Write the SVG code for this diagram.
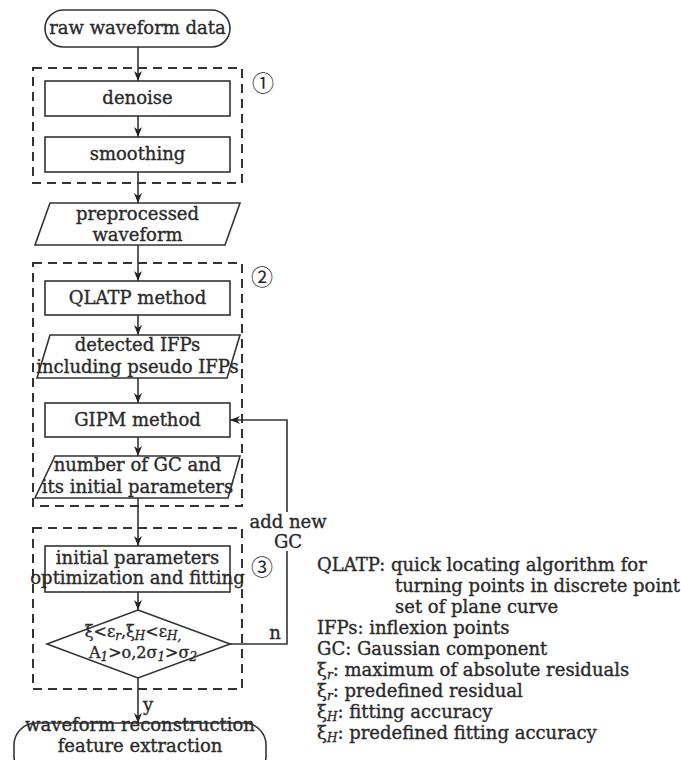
<svg xmlns="http://www.w3.org/2000/svg" width="681" height="760" viewBox="0 0 681 760">
<style>
  .bg{fill:#ffffff}
  .node{fill:#ffffff;stroke:#333;stroke-width:1.6}
  .grp{fill:none;stroke:#333;stroke-width:2;stroke-dasharray:9 6}
  .con{fill:none;stroke:#333;stroke-width:1.6}
  text{font-family:"DejaVu Serif","Noto Sans CJK SC",serif;font-size:18px;fill:#2a2a2a;stroke:#2a2a2a;stroke-width:0.35}
  .c{text-anchor:middle}
  .lg{font-size:18px}
  .num{font-family:"Noto Sans CJK SC","DejaVu Sans",sans-serif;font-size:22px;stroke-width:0}
  .sub{font-size:12px;font-style:italic}
  .dt{font-size:16px}
</style>
<defs>
  <marker id="ah" markerUnits="userSpaceOnUse" markerWidth="10" markerHeight="8" refX="10" refY="4" orient="auto">
    <path d="M0,0 L10,4 L0,8 L3,4 z" fill="#222"/>
  </marker>
</defs>
<rect class="bg" x="0" y="0" width="681" height="760"/>

<g id="groups">
  <rect id="group1" class="grp" x="33" y="68" width="209" height="115"/>
  <rect id="group2" class="grp" x="33" y="263" width="209" height="243"/>
  <rect id="group3" class="grp" x="33" y="528" width="209" height="161"/>
  <text class="num c" x="263" y="91">①</text>
  <text class="num c" x="262" y="285">②</text>
  <text class="num c" x="262" y="575">③</text>
</g>

<g id="connectors">
  <path class="con" d="M138,47 V81" marker-end="url(#ah)"/>
  <path class="con" d="M138,116 V137" marker-end="url(#ah)"/>
  <path class="con" d="M138,172 V203" marker-end="url(#ah)"/>
  <path class="con" d="M138,245 V281" marker-end="url(#ah)"/>
  <path class="con" d="M138,315 V335" marker-end="url(#ah)"/>
  <path class="con" d="M138,378 V403" marker-end="url(#ah)"/>
  <path class="con" d="M138,437 V456" marker-end="url(#ah)"/>
  <path class="con" d="M138,498 V546" marker-end="url(#ah)"/>
  <path class="con" d="M138,592 V610" marker-end="url(#ah)"/>
  <path class="con" d="M138,678 V723" marker-end="url(#ah)"/>
  <path class="con" d="M230,644 H287 V551"/>
  <path class="con" d="M287,512 V420 H230" marker-end="url(#ah)"/>
  <text class="c" x="288" y="528">add new</text>
  <text class="c" x="288" y="548">GC</text>
  <text class="c" x="275" y="639">n</text>
  <text class="c" x="148" y="711">y</text>
</g>

<g id="start">
  <rect class="node" x="45" y="10" width="185" height="37" rx="18.5"/>
  <text class="c" x="137.5" y="34">raw waveform data</text>
</g>

<g id="denoise">
  <rect class="node" x="45" y="81" width="185" height="35"/>
  <text class="c" x="137.5" y="104">denoise</text>
</g>

<g id="smoothing">
  <rect class="node" x="45" y="137" width="185" height="35"/>
  <text class="c" x="137.5" y="160">smoothing</text>
</g>

<g id="preprocessed">
  <polygon class="node" points="50,203 240,203 225,245 35,245"/>
  <text class="c" x="137.5" y="220">preprocessed</text>
  <text class="c" x="137.5" y="241">waveform</text>
</g>

<g id="qlatp">
  <rect class="node" x="45" y="281" width="185" height="34"/>
  <text class="c" x="137.5" y="304">QLATP method</text>
</g>

<g id="detected">
  <polygon class="node" points="50,335 240,335 227,378 37,378"/>
  <text class="c" x="137.5" y="351">detected IFPs</text>
  <text class="c" x="137.5" y="373">including pseudo IFPs</text>
</g>

<g id="gipm">
  <rect class="node" x="45" y="403" width="185" height="34"/>
  <text class="c" x="137.5" y="426">GIPM method</text>
</g>

<g id="numgc">
  <polygon class="node" points="55,456 240,456 228,498 35,498"/>
  <text class="c" x="137.5" y="471">number of GC and</text>
  <text class="c" x="137.5" y="493">its initial parameters</text>
</g>

<g id="optim">
  <rect class="node" x="45" y="546" width="185" height="46"/>
  <text class="c" x="137.5" y="564">initial parameters</text>
  <text class="c" x="137.5" y="584">optimization and fitting</text>
</g>

<g id="decision">
  <polygon class="node" points="138,610 230,644 138,678 47,644"/>
  <text class="c dt" x="133" y="637">ξ&lt;ε<tspan class="sub" dy="3">r</tspan><tspan dy="-3">,ξ</tspan><tspan class="sub" dy="3">H</tspan><tspan dy="-3">&lt;ε</tspan><tspan class="sub" dy="3">H,</tspan></text>
  <text class="c dt" x="143" y="658">A<tspan class="sub" dy="3">1</tspan><tspan dy="-3">&gt;o,2σ</tspan><tspan class="sub" dy="3">1</tspan><tspan dy="-3">&gt;σ</tspan><tspan class="sub" dy="3">2</tspan></text>
</g>

<g id="end">
  <rect class="node" x="14" y="723" width="252" height="55" rx="22"/>
  <text class="c" x="140" y="731">waveform reconstruction</text>
  <text class="c" x="140" y="752">feature extraction</text>
</g>

<g id="legend">
  <text class="lg" x="317" y="571">QLATP: quick locating algorithm for</text>
  <text class="lg" x="395" y="592">turning points in discrete point</text>
  <text class="lg" x="395" y="613">set of plane curve</text>
  <text class="lg" x="317" y="634">IFPs: inflexion points</text>
  <text class="lg" x="317" y="655">GC: Gaussian component</text>
  <text class="lg" x="317" y="676">ξ<tspan class="sub" dy="3">r</tspan><tspan dy="-3">: maximum of absolute residuals</tspan></text>
  <text class="lg" x="317" y="697">ξ<tspan class="sub" dy="3">r</tspan><tspan dy="-3">: predefined residual</tspan></text>
  <text class="lg" x="317" y="718">ξ<tspan class="sub" dy="3">H</tspan><tspan dy="-3">: fitting accuracy</tspan></text>
  <text class="lg" x="317" y="739">ξ<tspan class="sub" dy="3">H</tspan><tspan dy="-3">: predefined fitting accuracy</tspan></text>
</g>
</svg>
